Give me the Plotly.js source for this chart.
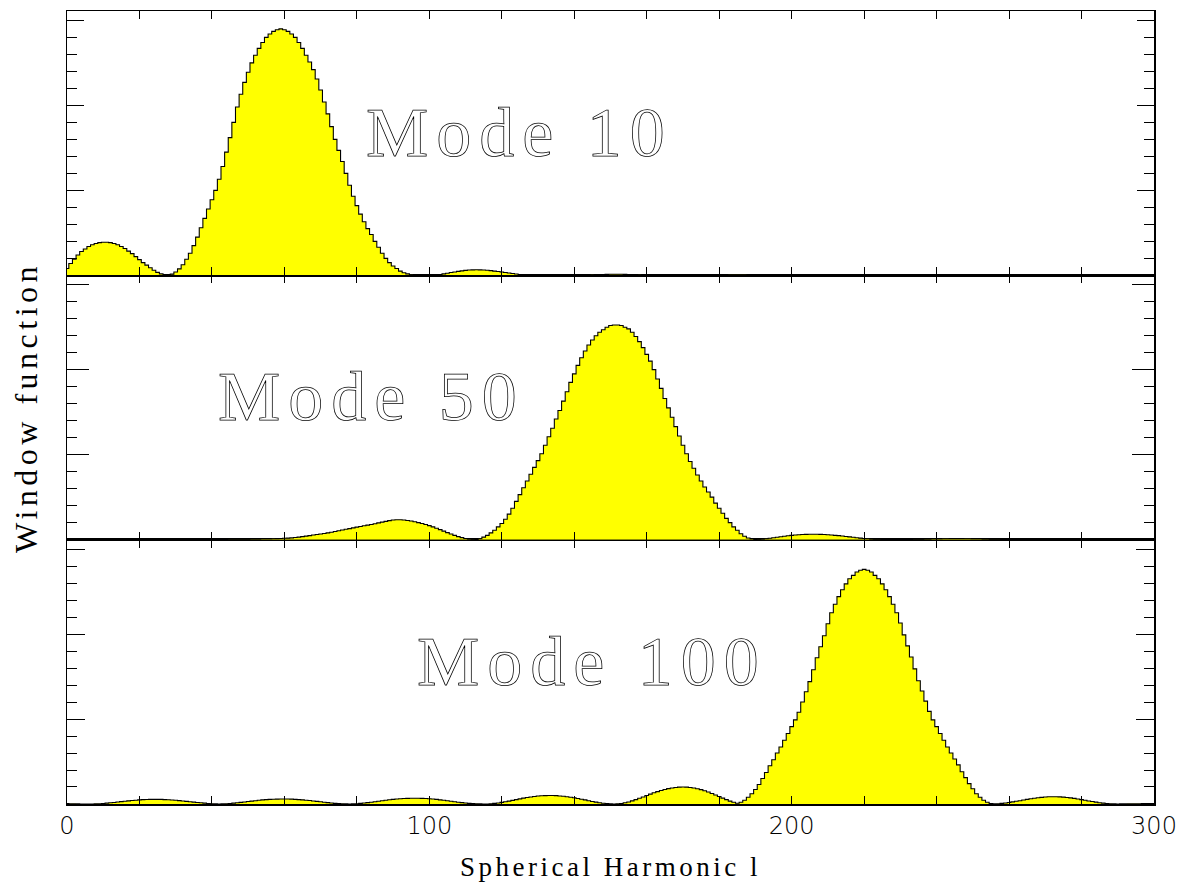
<!DOCTYPE html>
<html>
<head>
<meta charset="utf-8">
<script src="https://cdn.plot.ly/plotly-3.0.1.min.js"></script>
<style>
  html, body { margin: 0; padding: 0; background: #fff; }
  #chart { width: 1181px; height: 884px; }
  .annotation-text { fill: #ffffff !important; stroke: #000000; stroke-width: 0.75px; letter-spacing: 8px; }
  .xtitle { letter-spacing: 3.5px; }
  .y2title { letter-spacing: 4.5px; }
</style>
</head>
<body>
<div id="chart"></div>
<script>
// Spherical harmonic l runs 0..300 in steps of 1 (x0 = 0, dx = 1)
const lStart = 0;
const lStep = 1;

// Window function, Mode 10 (top panel), l = 0..300
const mode10 = [
  0.08,0.14,0.19,0.24,0.28,0.31,0.34,0.36,0.375,0.385,
  0.39,0.39,0.385,0.375,0.36,0.34,0.315,0.285,0.255,0.22,
  0.185,0.15,0.12,0.09,0.06,0.035,0.017,0.004,0.002,0.014,
  0.04,0.076,0.125,0.19,0.26,0.35,0.45,0.56,0.67,0.78,
  0.89,1.00,1.13,1.28,1.45,1.62,1.80,1.98,2.13,2.27,
  2.39,2.50,2.59,2.67,2.74,2.80,2.84,2.87,2.89,2.90,
  2.89,2.87,2.84,2.80,2.74,2.67,2.59,2.51,2.42,2.31,
  2.18,2.04,1.90,1.75,1.60,1.47,1.34,1.20,1.06,0.93,
  0.82,0.72,0.63,0.55,0.48,0.40,0.33,0.26,0.20,0.15,
  0.11,0.08,0.05,0.03,0.017,0.007,0.002,0,0,0,
  0,0.001,0.003,0.01,0.017,0.025,0.033,0.04,0.047,0.053,
  0.058,0.062,0.064,0.065,0.064,0.062,0.059,0.055,0.05,0.045,
  0.039,0.033,0.027,0.021,0.015,0.01,0.005,0.002,0,0,
  0,0,0,0,0,0,0,0,0,0,
  0,0.001,0.002,0.003,0.005,0.006,0.008,0.009,0.010,0.011,
  0.012,0.012,0.012,0.012,0.011,0.010,0.009,0.008,0.006,0.005,
  0.003,0.002,0.001,0,0,0,0,0,0,0,
  0,0,0,0,0,0,0,0.001,0.002,0.003,
  0.004,0.005,0.005,0.006,0.006,0.006,0.006,0.006,0.005,0.005,
  0.004,0.003,0.002,0.001,0,0,0,0,0,0,
  0,0,0,0,0,0,0,0,0,0,
  0,0,0,0,0,0,0,0,0,0,
  0,0,0,0,0,0,0,0,0,0,
  0,0,0,0,0,0,0,0,0,0,
  0,0,0,0,0,0,0,0,0,0,
  0,0,0,0,0,0,0,0,0,0,
  0,0,0,0,0,0,0,0,0,0,
  0,0,0,0,0,0,0,0,0,0,
  0,0,0,0,0,0,0,0,0,0,
  0,0,0,0,0,0,0,0,0,0,
  0
];

// Window function, Mode 50 (middle panel), l = 0..300
const mode50 = [
  0,0,0,0,0,0,0,0,0,0,
  0,0,0,0,0,0,0,0,0,0,
  0,0,0,0,0,0,0,0,0,0,
  0,0,0,0,0,0,0,0,0,0,
  0,0,0,0,0,0.001,0.001,0.002,0.002,0.003,
  0.003,0.004,0.005,0.006,0.007,0.008,0.009,0.010,0.012,0.014,
  0.016,0.018,0.021,0.025,0.030,0.036,0.042,0.048,0.054,0.060,
  0.066,0.073,0.080,0.088,0.096,0.104,0.113,0.122,0.130,0.139,
  0.147,0.155,0.163,0.171,0.179,0.188,0.197,0.206,0.215,0.224,
  0.231,0.235,0.234,0.231,0.226,0.219,0.211,0.201,0.19,0.178,
  0.165,0.15,0.135,0.118,0.100,0.083,0.066,0.05,0.036,0.024,
  0.014,0.006,0.002,0,0.01,0.03,0.05,0.08,0.11,0.15,
  0.19,0.24,0.30,0.37,0.45,0.53,0.61,0.69,0.77,0.85,
  0.93,1.01,1.11,1.21,1.31,1.42,1.52,1.63,1.74,1.85,
  1.95,2.05,2.14,2.22,2.29,2.35,2.40,2.44,2.47,2.50,
  2.52,2.525,2.525,2.52,2.50,2.48,2.44,2.39,2.33,2.26,
  2.18,2.10,2.00,1.89,1.78,1.66,1.55,1.44,1.33,1.22,
  1.11,1.01,0.92,0.84,0.76,0.69,0.62,0.56,0.50,0.43,
  0.37,0.31,0.25,0.20,0.15,0.11,0.07,0.04,0.02,0.007,
  0,0.002,0.005,0.01,0.016,0.022,0.029,0.035,0.041,0.046,
  0.051,0.055,0.058,0.060,0.062,0.063,0.063,0.063,0.062,0.060,
  0.058,0.055,0.051,0.047,0.043,0.038,0.033,0.028,0.023,0.018,
  0.014,0.010,0.006,0.003,0.001,0,0,0,0,0,
  0,0,0,0,0.001,0.002,0.003,0.004,0.005,0.007,
  0.008,0.009,0.010,0.011,0.012,0.012,0.012,0.012,0.011,0.010,
  0.009,0.008,0.007,0.005,0.004,0.003,0.002,0.001,0,0,
  0,0,0,0,0,0,0,0,0,0,
  0,0,0,0,0,0,0,0,0,0,
  0,0,0,0,0,0,0,0,0,0,
  0,0,0,0,0,0,0,0,0,0,
  0
];

// Window function, Mode 100 (bottom panel), l = 0..300
const mode100 = [
  0.004,0.003,0.002,0.001,0,0,0,0.0004,0.0017,0.0037,
  0.0065,0.01,0.014,0.018,0.023,0.0275,0.032,0.037,0.041,0.045,
  0.048,0.051,0.053,0.054,0.055,0.055,0.054,0.052,0.050,0.047,
  0.044,0.040,0.036,0.031,0.027,0.022,0.018,0.014,0.010,0.006,
  0.003,0.001,0,0.001,0.003,0.006,0.01,0.014,0.019,0.024,
  0.029,0.034,0.039,0.044,0.048,0.051,0.054,0.056,0.057,0.058,
  0.058,0.058,0.057,0.055,0.052,0.049,0.045,0.041,0.036,0.031,
  0.026,0.021,0.016,0.011,0.007,0.004,0.002,0.001,0,0.001,
  0.003,0.007,0.011,0.016,0.021,0.027,0.033,0.039,0.045,0.05,
  0.055,0.059,0.062,0.065,0.066,0.067,0.067,0.067,0.066,0.064,
  0.061,0.058,0.054,0.049,0.044,0.038,0.033,0.027,0.021,0.016,
  0.011,0.007,0.004,0.002,0.001,0,0.0008,0.003,0.007,0.012,
  0.019,0.026,0.034,0.043,0.052,0.060,0.069,0.076,0.083,0.089,
  0.094,0.097,0.099,0.1,0.1,0.098,0.095,0.091,0.086,0.080,
  0.073,0.065,0.056,0.048,0.039,0.030,0.022,0.015,0.009,0.004,
  0.001,0,0.002,0.006,0.014,0.024,0.037,0.051,0.067,0.083,
  0.100,0.116,0.132,0.146,0.159,0.171,0.181,0.189,0.195,0.199,
  0.200,0.199,0.195,0.189,0.180,0.169,0.156,0.141,0.124,0.106,
  0.088,0.069,0.051,0.034,0.020,0.008,0.02,0.045,0.08,0.12,
  0.17,0.23,0.30,0.37,0.45,0.52,0.60,0.67,0.75,0.83,
  0.91,0.99,1.08,1.20,1.32,1.44,1.58,1.72,1.85,1.98,
  2.12,2.25,2.35,2.44,2.52,2.59,2.65,2.69,2.73,2.75,
  2.76,2.75,2.73,2.69,2.65,2.59,2.52,2.44,2.35,2.25,
  2.13,1.99,1.86,1.73,1.59,1.45,1.33,1.21,1.09,0.99,
  0.91,0.83,0.75,0.67,0.60,0.53,0.46,0.38,0.31,0.24,
  0.18,0.12,0.08,0.045,0.02,0.005,0.001,0.003,0.007,0.012,
  0.018,0.025,0.032,0.039,0.047,0.054,0.061,0.067,0.073,0.078,
  0.082,0.085,0.086,0.086,0.084,0.081,0.077,0.072,0.066,0.059,
  0.052,0.044,0.036,0.029,0.022,0.015,0.01,0.006,0.003,0.001,
  0,0.001,0.001,0.002,0.002,0.003,0.003,0.004,0.004,0.005,
  0.005
];

// Panel labels
const modeLabels = ['Mode 10', 'Mode 50', 'Mode 100'];
const xTickVals = [0, 100, 200, 300];
const xTitle = 'Spherical Harmonic l';
const yTitle = 'Window function';

function trace(y, xa, ya) {
  return {
    type: 'scatter', mode: 'lines',
    x0: lStart, dx: lStep, y: y,
    xaxis: xa, yaxis: ya,
    line: { shape: 'hvh', color: '#000000', width: 1.1 },
    fill: 'tozeroy', fillcolor: '#ffff00',
    hoverinfo: 'skip', showlegend: false
  };
}

const data = [
  trace(mode100, 'x', 'y'),
  trace(mode50, 'x2', 'y2'),
  trace(mode10, 'x3', 'y3')
];

const tickFont = { family: 'DejaVu Sans', size: 24, color: '#000', weight: 200 };

function xAxis(anchor, labels) {
  return {
    anchor: anchor, range: [0, 300], fixedrange: true,
    tickmode: 'array', tickvals: xTickVals, ticktext: xTickVals.map(String),
    showticklabels: labels, tickfont: tickFont,
    ticks: 'inside', ticklen: 8, tickwidth: 1, tickcolor: '#000',
    minor: { dtick: 20, tick0: 0, ticks: 'inside', ticklen: 8, tickwidth: 1, tickcolor: '#000', showgrid: false },
    showline: true, linecolor: '#000', linewidth: 1.5, mirror: 'ticks',
    showgrid: false, zeroline: false
  };
}

function yAxis(domain, anchor, len) {
  return {
    domain: domain, anchor: anchor, range: [0, 3.11], fixedrange: true,
    tickmode: 'linear', tick0: 0, dtick: 1,
    showticklabels: false,
    ticks: 'inside', ticklen: len, tickwidth: 1, tickcolor: '#000',
    minor: { dtick: 0.2, tick0: 0, ticks: 'inside', ticklen: 10, tickwidth: 1, tickcolor: '#000', showgrid: false },
    showline: true, linecolor: '#000', linewidth: 1.5, mirror: 'ticks',
    showgrid: false, zeroline: false
  };
}

const xa1 = xAxis('y', true);
xa1.title = { text: xTitle, font: { family: 'Liberation Serif', size: 27, color: '#000' }, standoff: 18 };
const ya2 = yAxis([1/3, 2/3], 'x2', 22);
ya2.title = { text: yTitle, font: { family: 'Liberation Serif', size: 32, color: '#000' }, standoff: 18 };

const annFont = { family: 'Liberation Serif', size: 70, color: '#000' };
const layout = {
  width: 1181, height: 884,
  margin: { l: 67, r: 27, t: 11, b: 80 },
  paper_bgcolor: '#fff', plot_bgcolor: '#fff',
  showlegend: false,
  xaxis: xa1,
  xaxis2: xAxis('y2', false),
  xaxis3: xAxis('y3', false),
  yaxis: yAxis([0, 1/3], 'x', 18),
  yaxis2: ya2,
  yaxis3: yAxis([2/3, 1], 'x3', 17),
  annotations: [
    { text: modeLabels[0], xref: 'x3', yref: 'y3', x: 125, y: 1.68, showarrow: false, font: annFont, xanchor: 'center', yanchor: 'middle' },
    { text: modeLabels[1], xref: 'x2', yref: 'y2', x: 84, y: 1.68, showarrow: false, font: annFont, xanchor: 'center', yanchor: 'middle' },
    { text: modeLabels[2], xref: 'x', yref: 'y', x: 145, y: 1.68, showarrow: false, font: annFont, xanchor: 'center', yanchor: 'middle' }
  ]
};

Plotly.newPlot('chart', data, layout, { staticPlot: true, displayModeBar: false });
</script>
</body>
</html>
